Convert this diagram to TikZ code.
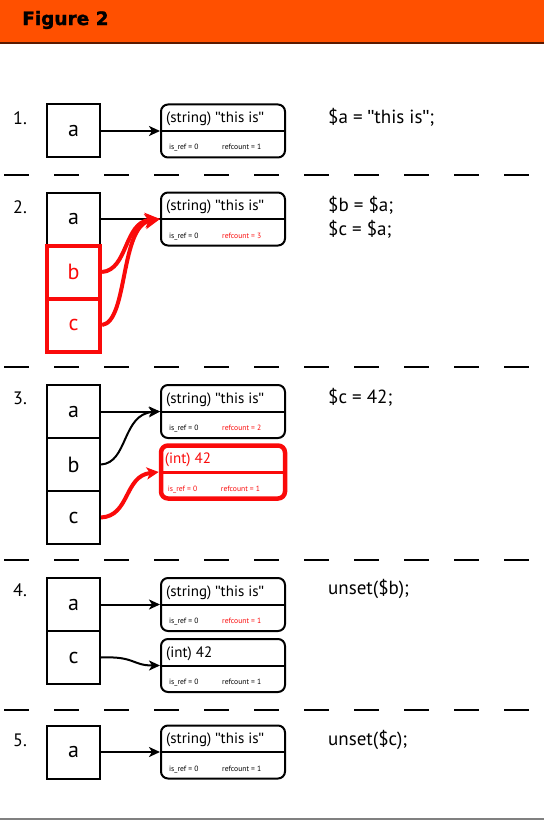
\documentclass[tikz,border=0pt]{standalone}
\usepackage{fontspec}
\setmainfont{PT Sans}
\newfontfamily\titlefont[BoldFeatures={FakeBold=1.4}]{DejaVu Sans}
\newfontfamily\qfont{Liberation Sans}
\newcommand\zq{{\qfont"}}
\usetikzlibrary{arrows.meta,calc}
\definecolor{hdr}{RGB}{255,80,0}
\definecolor{hdrline}{RGB}{90,25,0}
\definecolor{zred}{RGB}{250,10,10}
\newcommand\zval[7]{%
  \node[#3] (#1) at (223,#2) {};
  \draw[#4] (#1.west) -- (#1.east);
  \node[ttl,anchor=base west] (#1-t) at ($(#1.west)+(6,-8.5)$) {#5};
  \node[small,anchor=base west] (#1-i) at ($(#1.west)+(9,19)$) {#6};
  \node[small,anchor=base west] (#1-r) at ($(#1.west)+(62,19)$) {#7};
}
\begin{document}
\begin{tikzpicture}[x=1pt,y=-1pt,
  varbox/.style={draw,line width=2pt,minimum width=53pt,minimum height=53pt,inner sep=0pt,font=\fontsize{22}{24}\selectfont},
  redvar/.style={varbox,draw=zred,text=zred,line width=4pt},
  valbox/.style={draw,line width=2pt,rounded corners=7pt,minimum width=124pt,minimum height=53pt,inner sep=0pt},
  redval/.style={valbox,draw=zred,line width=4.5pt},
  blackdiv/.style={line width=2pt},
  reddiv/.style={draw=zred,line width=3pt},
  ttl/.style={inner sep=0pt,font=\fontsize{15}{17}\selectfont},
  small/.style={inner sep=0pt,font=\fontsize{7.6}{9}\selectfont},
  num/.style={inner sep=0pt,anchor=west,font=\fontsize{18}{20}\selectfont},
  code/.style={inner sep=0pt,anchor=west,font=\fontsize{19}{22}\selectfont},
  sep/.style={line width=2.5pt,dash pattern=on 25pt off 25pt},
  barrow/.style={line width=2pt,-{Stealth[length=11pt,width=10pt,inset=3pt]}},
  rarrow/.style={draw=zred,line width=4pt,-{Stealth[length=15pt,width=15pt,inset=4pt]}},
  rarrows/.style={draw=zred,line width=4pt,-{Stealth[length=12pt,width=12pt,inset=3pt]}}
]
\useasboundingbox (0,0) rectangle (544,821);
% header
\fill[hdr] (0,0) rectangle (544,42);
\fill[hdrline] (0,42) rectangle (544,44);
\node[inner sep=0pt,anchor=west,font=\titlefont\bfseries\fontsize{18.5}{21}\selectfont] (title) at (22,20) {Figure 2};
% footer rule
\draw[gray,line width=1.5pt] (0,819) -- (544,819);
% separators
\draw[sep] (4,175) -- (544,175);
\draw[sep] (4,367) -- (544,367);
\draw[sep] (4,560) -- (544,560);
\draw[sep] (4,710) -- (544,710);

% ---------- 1 ----------
\node[num] (n1) at (13,118) {1.};
\node[varbox] (a1) at (73.5,131) {a};
\zval{v1}{131}{valbox}{blackdiv}{(string) \zq this is\zq}{is\_ref = 0}{refcount = 1}
\draw[barrow] (a1.east) -- (v1.west);
\node[code] (c1t) at (328,117) {\$a = \zq this is\zq;};

% ---------- 2 ----------
\node[num] (n2) at (13,207) {2.};
\node[varbox] (a2) at (73.5,219) {a};
\node[redvar] (b2) at (73.5,272) {b};
\node[redvar] (c2) at (73.5,325) {c};
\zval{v2}{219}{valbox}{blackdiv}{(string) \zq this is\zq}{is\_ref = 0}{\textcolor{zred}{refcount = 3}}
\draw[line width=2pt] (a2.east) -- (v2.west);
\draw[rarrow] (b2.east) .. controls (128,270) and (124,222) .. (v2.west);
\draw[rarrow] (c2.east) .. controls (128,322) and (120,226) .. (v2.west);
\node[code] (c2t) at (328,205) {\$b = \$a;};
\node[code] (c2u) at (328,229) {\$c = \$a;};

% ---------- 3 ----------
\node[num] (n3) at (13,398) {3.};
\node[varbox] (a3) at (73.5,411.5) {a};
\node[varbox] (b3) at (73.5,464.5) {b};
\node[varbox] (c3) at (73.5,517.5) {c};
\zval{v3a}{411.5}{valbox}{blackdiv}{(string) \zq this is\zq}{is\_ref = 0}{\textcolor{zred}{refcount = 2}}
\zval{v3b}{472}{redval}{reddiv}{\textcolor{zred}{(int) 42}}{\textcolor{zred}{is\_ref = 0}}{\textcolor{zred}{refcount = 1}}
\draw[barrow] (a3.east) -- (v3a.west);
\draw[barrow] (b3.east) .. controls (128,463) and (122,414) .. (v3a.west);
\draw[rarrows] (c3.east) .. controls (130,516) and (124,476) .. (v3b.west);
\node[code] (c3t) at (328,397) {\$c = 42;};

% ---------- 4 ----------
\node[num] (n4) at (13,590) {4.};
\node[varbox] (a4) at (73.5,604.5) {a};
\node[varbox] (c4) at (73.5,657.5) {c};
\zval{v4a}{604.5}{valbox}{blackdiv}{(string) \zq this is\zq}{is\_ref = 0}{\textcolor{zred}{refcount = 1}}
\zval{v4b}{665.5}{valbox}{blackdiv}{(int) 42}{is\_ref = 0}{refcount = 1}
\draw[barrow] (a4.east) -- (v4a.west);
\draw[barrow] (c4.east) .. controls (135,656) and (132,665.5) .. (v4b.west);
\node[code] (c4t) at (328,589) {unset(\$b);};

% ---------- 5 ----------
\node[num] (n5) at (13,740) {5.};
\node[varbox] (a5) at (73.5,752) {a};
\zval{v5}{752}{valbox}{blackdiv}{(string) \zq this is\zq}{is\_ref = 0}{refcount = 1}
\draw[barrow] (a5.east) -- (v5.west);
\node[code] (c5t) at (328,740) {unset(\$c);};
\end{tikzpicture}
\end{document}
